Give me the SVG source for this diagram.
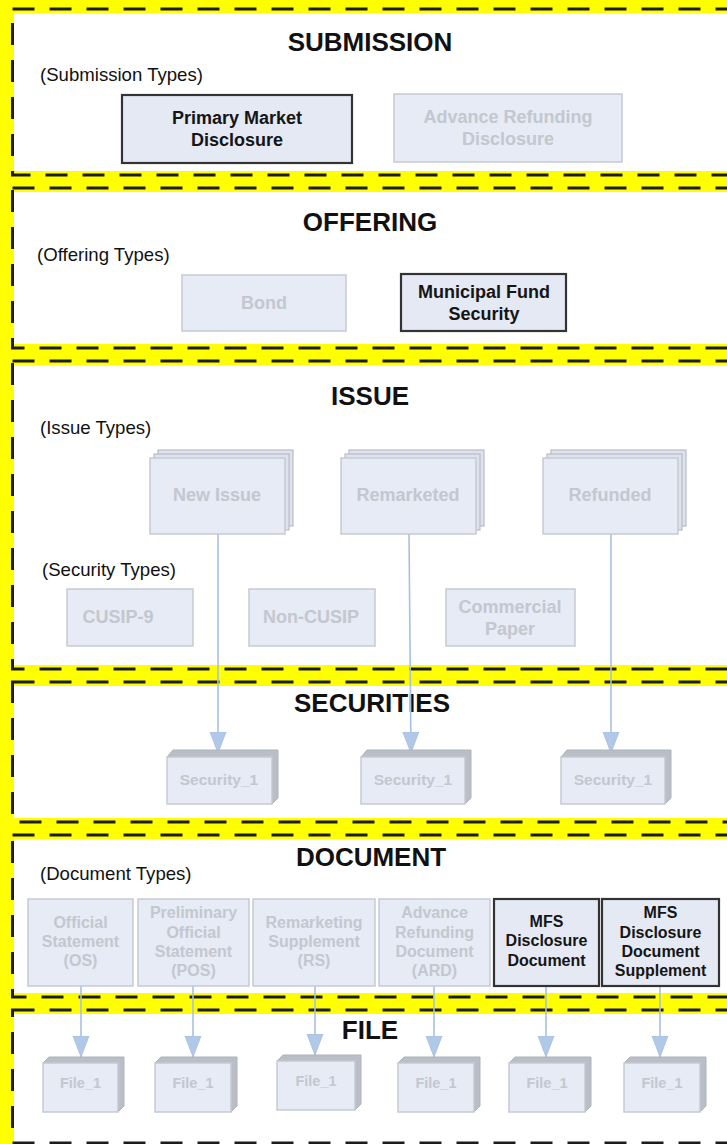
<svg xmlns="http://www.w3.org/2000/svg" width="727" height="1144" viewBox="0 0 727 1144">
<style>
.sec{fill:#ffffff;stroke:none}
.dash{fill:none;stroke:#1c1c1c;stroke-width:3;stroke-dasharray:22 15}
.title{font-family:"Liberation Sans",Arial,sans-serif;font-weight:bold;font-size:26px;fill:#111;text-anchor:middle}
.sub{font-family:"Liberation Sans",Arial,sans-serif;font-size:18.6px;fill:#111}
.lb{fill:#e6ebf5;stroke:#c6cad2;stroke-width:1.5}
.db{fill:#e4e9f4;stroke:#333;stroke-width:2.2}
.lt{font-family:"Liberation Sans",Arial,sans-serif;font-weight:bold;font-size:18px;fill:#c3c7cf;text-anchor:middle}
.dt{font-family:"Liberation Sans",Arial,sans-serif;font-weight:bold;font-size:18px;fill:#151515;text-anchor:middle}
.doc{font-size:16px}
.sm{font-size:15.5px}
.fl{font-size:14.5px}
.face{fill:#b9bec7;stroke:#aeb3bc;stroke-width:1}
.layer{fill:#dde2ec;stroke:#b8bcc6;stroke-width:1.2}
.conn{stroke:#a9c0e2;stroke-width:1.6;fill:none;marker-end:url(#ah)}
</style>
<defs>
<marker id="ah" markerUnits="userSpaceOnUse" markerWidth="22" markerHeight="18" refX="21" refY="8" orient="auto" viewBox="0 0 22 16">
<path d="M0,0 L21,8 L0,16 z" fill="#b2c8e8" stroke="#a3bce0" stroke-width="0.8"/>
</marker>
</defs>
<rect x="0" y="0" width="727" height="1144" fill="#ffff00"/>
<g id="sections">
<rect class="sec" x="14" y="13" width="730" height="158"/>
<rect class="sec" x="14" y="192" width="730" height="152"/>
<rect class="sec" x="14" y="365" width="730" height="300"/>
<rect class="sec" x="14" y="686" width="730" height="132"/>
<rect class="sec" x="14" y="839" width="730" height="154"/>
<rect class="sec" x="14" y="1014" width="730" height="140"/>
<rect class="dash" x="12.5" y="9" width="740" height="166"/>
<rect class="dash" x="12.5" y="188" width="740" height="160"/>
<rect class="dash" x="12.5" y="361" width="740" height="308"/>
<rect class="dash" x="12.5" y="682" width="740" height="140"/>
<rect class="dash" x="12.5" y="835" width="740" height="162"/>
<rect class="dash" x="12.5" y="1010" width="740" height="133"/>
</g>
<g id="labels">
<text class="title" x="370" y="51">SUBMISSION</text>
<text class="sub" x="40" y="81">(Submission Types)</text>
<text class="title" x="370" y="231">OFFERING</text>
<text class="sub" x="37" y="261">(Offering Types)</text>
<text class="title" x="370" y="405">ISSUE</text>
<text class="sub" x="40" y="434">(Issue Types)</text>
<text class="sub" x="42" y="576">(Security Types)</text>
<text class="title" x="372" y="712">SECURITIES</text>
<text class="title" x="371" y="866">DOCUMENT</text>
<text class="sub" x="40" y="880">(Document Types)</text>
<text class="title" x="370" y="1039">FILE</text>
</g>
<g id="connectors">
<line class="conn" x1="218" y1="534" x2="218" y2="753"/>
<line class="conn" x1="409" y1="534" x2="411" y2="753"/>
<line class="conn" x1="611" y1="534" x2="611" y2="753"/>
<line class="conn" x1="81" y1="986" x2="81" y2="1057"/>
<line class="conn" x1="193" y1="986" x2="193" y2="1057"/>
<line class="conn" x1="315" y1="986" x2="315" y2="1055"/>
<line class="conn" x1="434" y1="986" x2="434" y2="1057"/>
<line class="conn" x1="546" y1="986" x2="546" y2="1057"/>
<line class="conn" x1="660" y1="986" x2="660" y2="1057"/>
</g>
<g id="n-primary-market">
<rect class="db" x="122" y="95" width="230" height="68"/>
<text class="dt" x="237" y="123.5">Primary Market</text>
<text class="dt" x="237" y="145.5">Disclosure</text>
</g>
<g id="n-advance-refunding">
<rect class="lb" x="394" y="94" width="228" height="68"/>
<text class="lt" x="508" y="122.5">Advance Refunding</text>
<text class="lt" x="508" y="144.5">Disclosure</text>
</g>
<g id="n-bond">
<rect class="lb" x="182" y="275" width="164" height="56"/>
<text class="lt" x="264" y="308.5">Bond</text>
</g>
<g id="n-mfs">
<rect class="db" x="401" y="274" width="165" height="57"/>
<text class="dt" x="484" y="297.5">Municipal Fund</text>
<text class="dt" x="484" y="319.5">Security</text>
</g>
<g id="n-new-issue">
<rect class="layer" x="158" y="450" width="135" height="76"/>
<rect class="layer" x="154" y="454" width="135" height="76"/>
<rect class="lb" x="150" y="458" width="135" height="76"/>
<text class="lt" x="217" y="501">New Issue</text>
</g>
<g id="n-remarketed">
<rect class="layer" x="349" y="450" width="135" height="76"/>
<rect class="layer" x="345" y="454" width="135" height="76"/>
<rect class="lb" x="341" y="458" width="135" height="76"/>
<text class="lt" x="408" y="501">Remarketed</text>
</g>
<g id="n-refunded">
<rect class="layer" x="551" y="450" width="135" height="76"/>
<rect class="layer" x="547" y="454" width="135" height="76"/>
<rect class="lb" x="543" y="458" width="135" height="76"/>
<text class="lt" x="610" y="501">Refunded</text>
</g>
<g id="n-cusip9">
<rect class="lb" x="67" y="589" width="126" height="57"/>
<text class="lt" x="118" y="622.5">CUSIP-9</text>
</g>
<g id="n-noncusip">
<rect class="lb" x="249" y="589" width="126" height="57"/>
<text class="lt" x="311" y="622.5">Non-CUSIP</text>
</g>
<g id="n-commercial-paper">
<rect class="lb" x="446" y="589" width="129" height="57"/>
<text class="lt" x="510" y="612.5">Commercial</text>
<text class="lt" x="510" y="634.5">Paper</text>
</g>
<g id="n-security-1">
<path class="face" d="M167,757 L173,750 L278,750 L278,798 L272,804 L272,757 z"/>
<rect class="lb" x="167" y="757" width="105" height="47"/>
<text class="lt sm" x="219" y="784.5">Security_1</text>
</g>
<g id="n-security-2">
<path class="face" d="M361,757 L367,750 L471,750 L471,798 L465,804 L465,757 z"/>
<rect class="lb" x="361" y="757" width="104" height="47"/>
<text class="lt sm" x="413" y="784.5">Security_1</text>
</g>
<g id="n-security-3">
<path class="face" d="M561,757 L567,750 L671,750 L671,798 L665,804 L665,757 z"/>
<rect class="lb" x="561" y="757" width="104" height="47"/>
<text class="lt sm" x="613" y="784.5">Security_1</text>
</g>
<g id="n-doc-os">
<rect class="lb" x="28" y="899" width="105" height="87"/>
<text class="lt doc" x="80.5" y="928">Official</text>
<text class="lt doc" x="80.5" y="947">Statement</text>
<text class="lt doc" x="80.5" y="966">(OS)</text>
</g>
<g id="n-doc-pos">
<rect class="lb" x="138" y="899" width="111" height="87"/>
<text class="lt doc" x="193.5" y="918">Preliminary</text>
<text class="lt doc" x="193.5" y="937.5">Official</text>
<text class="lt doc" x="193.5" y="957">Statement</text>
<text class="lt doc" x="193.5" y="976">(POS)</text>
</g>
<g id="n-doc-rs">
<rect class="lb" x="253" y="899" width="122" height="87"/>
<text class="lt doc" x="314" y="928">Remarketing</text>
<text class="lt doc" x="314" y="947">Supplement</text>
<text class="lt doc" x="314" y="966">(RS)</text>
</g>
<g id="n-doc-ard">
<rect class="lb" x="379" y="899" width="111" height="87"/>
<text class="lt doc" x="434.5" y="918">Advance</text>
<text class="lt doc" x="434.5" y="937.5">Refunding</text>
<text class="lt doc" x="434.5" y="957">Document</text>
<text class="lt doc" x="434.5" y="976">(ARD)</text>
</g>
<g id="n-doc-mfsdd">
<rect class="db" x="494" y="899" width="105" height="87"/>
<text class="dt doc" x="546.5" y="927">MFS</text>
<text class="dt doc" x="546.5" y="946">Disclosure</text>
<text class="dt doc" x="546.5" y="966">Document</text>
</g>
<g id="n-doc-mfsdds">
<rect class="db" x="602" y="899" width="117" height="87"/>
<text class="dt doc" x="660.5" y="918">MFS</text>
<text class="dt doc" x="660.5" y="937.5">Disclosure</text>
<text class="dt doc" x="660.5" y="957">Document</text>
<text class="dt doc" x="660.5" y="976">Supplement</text>
</g>
<g id="n-file-1">
<path class="face" d="M43,1063 L49,1057 L124,1057 L124,1106 L118,1112 L118,1063 z"/>
<rect class="lb" x="43" y="1063" width="75" height="49"/>
<text class="lt fl" x="80.5" y="1088">File_1</text>
</g>
<g id="n-file-2">
<path class="face" d="M155,1063 L161,1057 L237,1057 L237,1106 L231,1112 L231,1063 z"/>
<rect class="lb" x="155" y="1063" width="76" height="49"/>
<text class="lt fl" x="193" y="1088">File_1</text>
</g>
<g id="n-file-3">
<path class="face" d="M277,1061 L283,1055 L361,1055 L361,1104 L355,1110 L355,1061 z"/>
<rect class="lb" x="277" y="1061" width="78" height="49"/>
<text class="lt fl" x="316" y="1086">File_1</text>
</g>
<g id="n-file-4">
<path class="face" d="M398,1063 L404,1057 L480,1057 L480,1106 L474,1112 L474,1063 z"/>
<rect class="lb" x="398" y="1063" width="76" height="49"/>
<text class="lt fl" x="436" y="1088">File_1</text>
</g>
<g id="n-file-5">
<path class="face" d="M509,1063 L515,1057 L591,1057 L591,1106 L585,1112 L585,1063 z"/>
<rect class="lb" x="509" y="1063" width="76" height="49"/>
<text class="lt fl" x="547" y="1088">File_1</text>
</g>
<g id="n-file-6">
<path class="face" d="M624,1063 L630,1057 L706,1057 L706,1106 L700,1112 L700,1063 z"/>
<rect class="lb" x="624" y="1063" width="76" height="49"/>
<text class="lt fl" x="662" y="1088">File_1</text>
</g>
</svg>
